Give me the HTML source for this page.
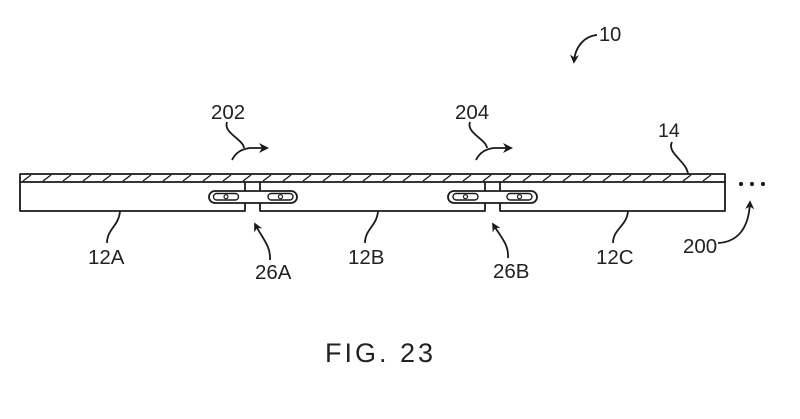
<!DOCTYPE html>
<html>
<head>
<meta charset="utf-8">
<style>
  html,body{margin:0;padding:0;background:#fff;}
  svg{display:block;}
  text{font-family:"Liberation Sans", Arial, sans-serif; fill:#222;}
</style>
</head>
<body>
<svg width="800" height="419" viewBox="0 0 800 419" xmlns="http://www.w3.org/2000/svg">
  <defs>
    <marker id="ah" viewBox="0 0 10 10" refX="8" refY="5" markerWidth="9" markerHeight="9" orient="auto" markerUnits="userSpaceOnUse">
      <path d="M0,0 L10,5 L0,10 L3,5 Z" fill="#1a1a1a"/>
    </marker>
    <marker id="ah2" viewBox="0 0 10 10" refX="8" refY="5" markerWidth="10" markerHeight="10" orient="auto" markerUnits="userSpaceOnUse">
      <path d="M0,0 L10,5 L0,10 L3,5 Z" fill="#1a1a1a"/>
    </marker>
  </defs>
  <rect width="800" height="419" fill="#fff"/>

  <g stroke="#1a1a1a" stroke-width="1.8" fill="none" stroke-linejoin="round">
    <!-- layer 14 -->
    <rect x="20" y="174" width="705" height="8"/>
    <!-- hatch -->
    <g stroke-width="1.4">
      <line x1="23" y1="181" x2="31" y2="175"/>
      <line x1="43" y1="181" x2="51" y2="175"/>
      <line x1="63" y1="181" x2="71" y2="175"/>
      <line x1="83" y1="181" x2="91" y2="175"/>
      <line x1="103" y1="181" x2="111" y2="175"/>
      <line x1="123" y1="181" x2="131" y2="175"/>
      <line x1="143" y1="181" x2="151" y2="175"/>
      <line x1="163" y1="181" x2="171" y2="175"/>
      <line x1="183" y1="181" x2="191" y2="175"/>
      <line x1="203" y1="181" x2="211" y2="175"/>
      <line x1="223" y1="181" x2="231" y2="175"/>
      <line x1="243" y1="181" x2="251" y2="175"/>
      <line x1="263" y1="181" x2="271" y2="175"/>
      <line x1="283" y1="181" x2="291" y2="175"/>
      <line x1="303" y1="181" x2="311" y2="175"/>
      <line x1="323" y1="181" x2="331" y2="175"/>
      <line x1="343" y1="181" x2="351" y2="175"/>
      <line x1="363" y1="181" x2="371" y2="175"/>
      <line x1="383" y1="181" x2="391" y2="175"/>
      <line x1="403" y1="181" x2="411" y2="175"/>
      <line x1="423" y1="181" x2="431" y2="175"/>
      <line x1="443" y1="181" x2="451" y2="175"/>
      <line x1="463" y1="181" x2="471" y2="175"/>
      <line x1="483" y1="181" x2="491" y2="175"/>
      <line x1="503" y1="181" x2="511" y2="175"/>
      <line x1="523" y1="181" x2="531" y2="175"/>
      <line x1="543" y1="181" x2="551" y2="175"/>
      <line x1="563" y1="181" x2="571" y2="175"/>
      <line x1="583" y1="181" x2="591" y2="175"/>
      <line x1="603" y1="181" x2="611" y2="175"/>
      <line x1="623" y1="181" x2="631" y2="175"/>
      <line x1="643" y1="181" x2="651" y2="175"/>
      <line x1="663" y1="181" x2="671" y2="175"/>
      <line x1="683" y1="181" x2="691" y2="175"/>
      <line x1="703" y1="181" x2="711" y2="175"/>
    </g>

    <!-- panels outline -->
    <path d="M20,182 L20,211 L245,211 L245,203"/>
    <path d="M245,191 L245,182"/>
    <path d="M260,182 L260,191"/>
    <path d="M260,203 L260,211 L485,211 L485,203"/>
    <path d="M485,191 L485,182"/>
    <path d="M500,182 L500,191"/>
    <path d="M500,203 L500,211 L725,211 L725,182"/>

    <!-- hinge 26A -->
    <rect x="209" y="191" width="88" height="12" rx="6"/>
    <rect x="213.5" y="193.5" width="25" height="6.5" rx="3.2" stroke-width="1.4"/>
    <rect x="268" y="193.5" width="25" height="6.5" rx="3.2" stroke-width="1.4"/>
    <circle cx="226" cy="196.7" r="2" stroke-width="1.2"/>
    <circle cx="280.5" cy="196.7" r="2" stroke-width="1.2"/>

    <!-- hinge 26B -->
    <rect x="448" y="191" width="89" height="12" rx="6"/>
    <rect x="453" y="193.5" width="25" height="6.5" rx="3.2" stroke-width="1.4"/>
    <rect x="507" y="193.5" width="25" height="6.5" rx="3.2" stroke-width="1.4"/>
    <circle cx="465.5" cy="196.7" r="2" stroke-width="1.2"/>
    <circle cx="519.5" cy="196.7" r="2" stroke-width="1.2"/>

    <!-- leaders -->
    <path d="M120,211 C119,226 107,229 107,243"/>
    <path d="M378,211 C377,226 365,229 365,243"/>
    <path d="M628,211 C627,226 613,229 613,243"/>
    <path d="M672,142 C666,153 688,162 688,175"/>

    <!-- arrows -->
    <path d="M270,260 C271,246 262,238 255,224" marker-end="url(#ah)"/>
    <path d="M508,258 C509,244 500,236 493,224" marker-end="url(#ah)"/>
    <path d="M718,243 C738,242 749,228 750,202" marker-end="url(#ah)"/>
    <path d="M597,35 C585,36 575,46 574,62" marker-end="url(#ah)"/>

    <!-- 202 -->
    <path d="M227,122 C223,133 243,139 244,148"/>
    <path d="M232,160 C236,152 242,149 250,148 L267,148" marker-end="url(#ah2)"/>
    <!-- 204 -->
    <path d="M470,122 C466,133 486,139 487,148"/>
    <path d="M476,160 C480,152 486,149 494,148 L511,148" marker-end="url(#ah2)"/>
  </g>

  <!-- dots -->
  <g fill="#1a1a1a">
    <circle cx="741" cy="184" r="2.1"/>
    <circle cx="752" cy="184" r="2.1"/>
    <circle cx="763" cy="184" r="2.1"/>
  </g>

  <!-- labels -->
  <g font-size="20.5">
    <text x="599" y="41" font-size="20">10</text>
    <text x="658" y="137" font-size="19.5">14</text>
    <text x="211" y="119">202</text>
    <text x="455" y="119">204</text>
    <text x="88" y="264">12A</text>
    <text x="348" y="264">12B</text>
    <text x="596" y="264">12C</text>
    <text x="255" y="279">26A</text>
    <text x="493" y="278">26B</text>
    <text x="683" y="253">200</text>
  </g>
  <text x="325" y="362" font-size="27" letter-spacing="3">FIG. 23</text>
</svg>
</body>
</html>
